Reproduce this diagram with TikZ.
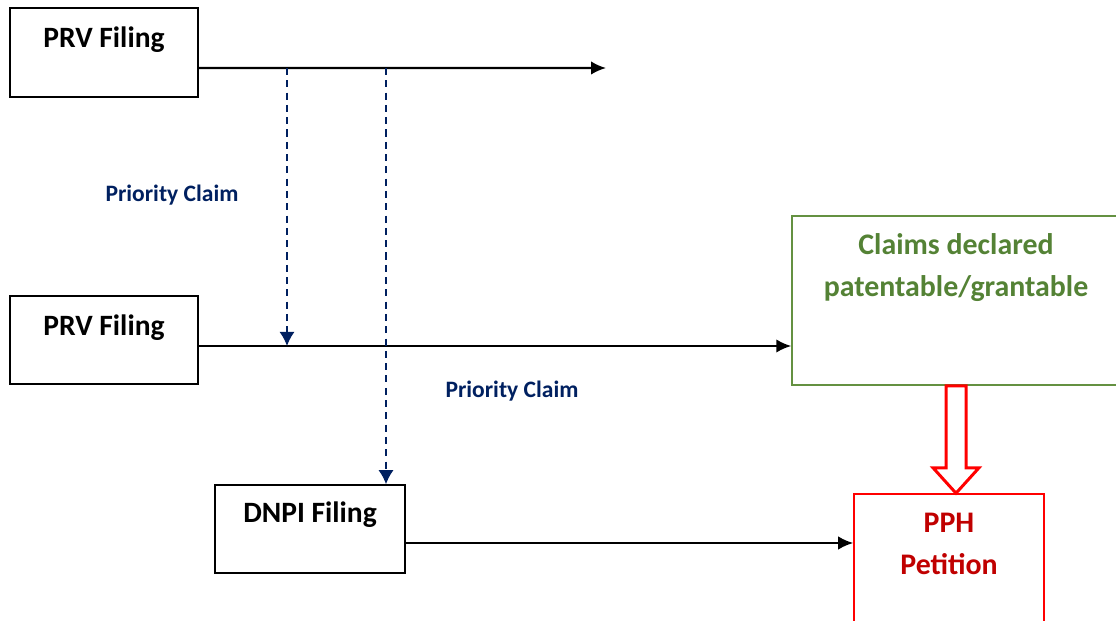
\documentclass[tikz,border=0pt]{standalone}
\usepackage{fontspec}
\setmainfont{Carlito}
\usetikzlibrary{calc,positioning,arrows,arrows.meta}
\definecolor{prionavy}{RGB}{0,32,96}
\definecolor{grantgreen}{RGB}{84,130,53}
\definecolor{grantline}{RGB}{100,145,65}
\definecolor{pphred}{RGB}{192,0,0}
\begin{document}
\begin{tikzpicture}
    \tikzset{x=0.02cm,y=-0.02cm,every path/.style={>=latex},
      filebox/.style={rectangle,draw,line width=0.9pt,inner sep=0pt},
      boxtext/.style={anchor=base,inner sep=0pt,align=center,font=\bfseries\fontsize{16.8}{24}\selectfont},
      bigtext/.style={font=\bfseries\fontsize{17}{23.8}\selectfont},
      flow/.style={line width=1.25pt,-{Latex[length=0.3cm,width=0.27cm]}},
      prio/.style={prionavy,line width=0.9pt,dash pattern=on 4pt off 3pt,-{Latex[length=0.28cm,width=0.3cm]}},
      priotext/.style={prionavy,anchor=base,inner sep=0pt,font=\bfseries\fontsize{13.4}{15}\selectfont},
      blockarrow/.style={draw=red,line width=1.7pt,fill=white,line join=miter}}
    \useasboundingbox (0,0) rectangle (1116,621);
    \node [filebox,minimum width=3.76cm,minimum height=1.78cm,
      label={[boxtext,yshift=-0.8cm]north:PRV Filing}]   (prv1) at (104,52.5) {};
    \node [filebox,minimum width=3.76cm,minimum height=1.76cm,
      label={[boxtext,yshift=-0.8cm]north:PRV Filing}]   (prv2) at (104,340) {};
    \node [filebox,minimum width=3.8cm,minimum height=1.76cm,
      label={[boxtext,yshift=-0.77cm]north:DNPI Filing}]  (dnpi) at (310,529) {};
    \node [filebox,draw=grantline,minimum width=6.56cm,minimum height=3.38cm,
      label={[boxtext,bigtext,text=grantgreen,yshift=-1.62cm]north:Claims declared\\patentable/grantable}] (claims) at (956,300.5) {};
    \node [filebox,draw=red,minimum width=3.8cm,minimum height=2.92cm,
      label={[boxtext,bigtext,text=pphred,yshift=-1.62cm]north:PPH\\Petition}] (pph) at (949,567) {};
    \node [priotext] (pc1) at (172,202) {Priority Claim};
    \node [priotext] (pc2) at (512,398) {Priority Claim};
    % horizontal time lines
    \coordinate (s1) at ([yshift=-0.31cm]prv1.east);
    \coordinate (e1) at (606,68);
    \coordinate (s2) at ([yshift=-0.12cm]prv2.east);
    \coordinate (s3) at ([yshift=-0.28cm]dnpi.east);
    \draw[flow] (s1) -- (e1);
    \draw[flow] (s2) -- (claims.west |- s2);
    \draw[flow] (s3) -- (pph.west |- s3);
    % priority claims
    \coordinate (d1) at (287,68);
    \coordinate (d2) at (386,68);
    \draw[prio] (d1) -- (d1 |- s2);
    \draw[prio] (d2) -- (d2 |- dnpi.north);
    % block arrow
    \draw[blockarrow] ($(claims.south)+(-10,0)$) -- ($(claims.south)+(-10,82)$)
      -- ($(claims.south)+(-23,82)$) -- (claims.south |- pph.north)
      -- ($(claims.south)+(23,82)$) -- ($(claims.south)+(10,82)$)
      -- ($(claims.south)+(10,0)$) -- cycle;
\end{tikzpicture}
\end{document}
